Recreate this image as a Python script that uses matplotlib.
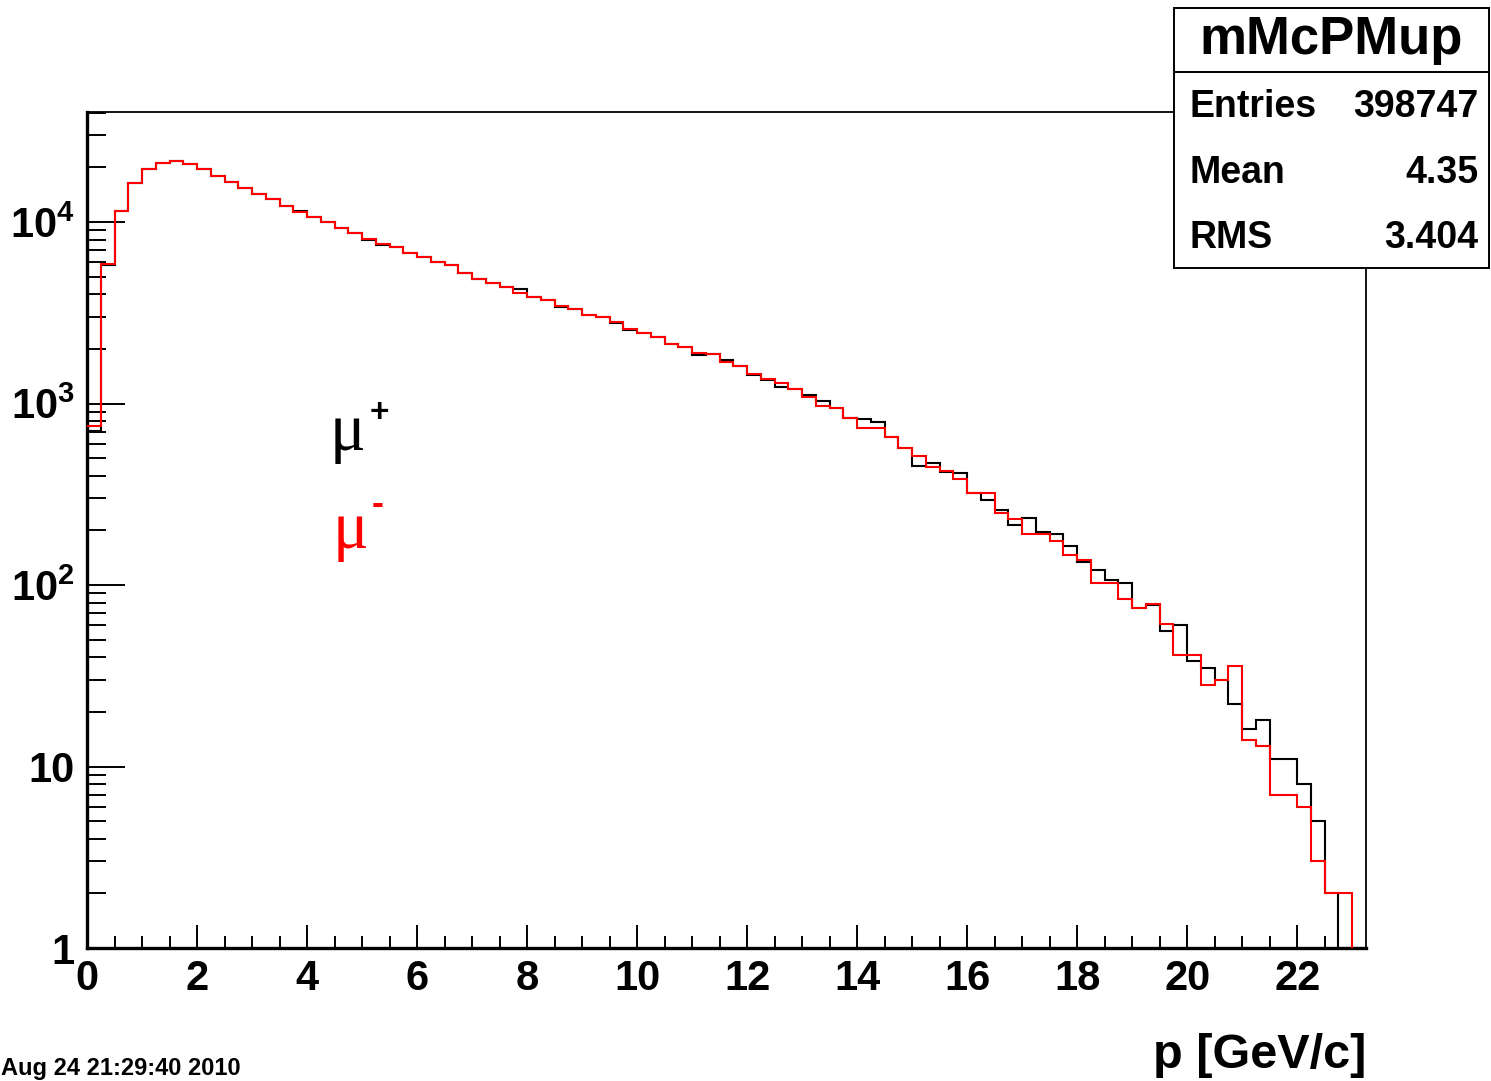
import numpy as np
import matplotlib
matplotlib.use("Agg")
import matplotlib.pyplot as plt
from matplotlib.ticker import MultipleLocator, LogLocator, NullFormatter
from matplotlib.patches import Rectangle
from matplotlib.lines import Line2D

plt.rcParams['font.family'] = ['Liberation Sans', 'DejaVu Sans']
plt.rcParams['font.weight'] = 'bold'
plt.rcParams['mathtext.fontset'] = 'custom'
plt.rcParams['mathtext.rm'] = 'Liberation Sans:bold'
plt.rcParams['mathtext.bf'] = 'Liberation Sans:bold'

# === Data, 93 bins of 0.25 GeV/c ===
p_min, p_max, n_bins = 0.0, 23.25, 93

mu_minus = [750, 5870, 11540, 16480, 19510, 21220, 21760, 20880, 19510, 17990,
            16680, 15450, 14270, 13340, 12300, 11400, 10620, 10040, 9230, 8660,
            8030, 7560, 7260, 6780, 6440, 6040, 5770, 5210, 4870, 4630,
            4400, 4080, 3850, 3720, 3440, 3300, 3090, 3010, 2810, 2580,
            2460, 2330, 2130, 2060, 1910, 1870, 1700, 1600, 1450, 1360,
            1300, 1200, 1090, 968, 941, 829, 730, 730, 656, 566,
            514, 449, 426, 382, 322, 322, 249, 232, 191, 192,
            175, 146, 137, 103, 103, 84, 75, 79, 61, 41,
            41, 28, 30, 36, 14, 13, 7, 7, 6, 3,
            2, 2, 0]

mu_plus = [710, 5800, 11540, 16480, 19510, 21220, 21600, 20880, 19510, 17990,
           16680, 15450, 14270, 13340, 12300, 11500, 10620, 10040, 9230, 8660,
           7980, 7510, 7260, 6740, 6440, 6020, 5770, 5250, 4840, 4600,
           4400, 4290, 3850, 3720, 3420, 3300, 3070, 2990, 2790, 2540,
           2460, 2330, 2120, 2040, 1860, 1870, 1740, 1600, 1430, 1350,
           1230, 1200, 1120, 1036, 941, 829, 824, 791, 656, 566,
           454, 468, 419, 416, 322, 294, 259, 214, 233, 197,
           191, 164, 134, 121, 106, 103, 75, 78, 56, 60,
           38, 35, 30, 22, 16, 18, 11, 11, 8, 5,
           2, 0, 0]

hist_name = "mMcPMup"
stats_labels = ["Entries", "Mean", "RMS"]
stats_values = ["398747", "4.35", "3.404"]
y_tick_vals = [1, 10, 100, 1000, 10000]
y_tick_text = ["1", "10", r"$\mathbf{10^{2}}$", r"$\mathbf{10^{3}}$", r"$\mathbf{10^{4}}$"]
x_label = "p [GeV/c]"
date_text = "Aug 24 21:29:40 2010"

edges = np.linspace(p_min, p_max, n_bins + 1)

# === Figure ===
W, H = 1491, 1081
fig = plt.figure(figsize=(W / 100, H / 100), dpi=100)
ax = fig.add_axes([87 / W, 1 - 948 / H, (1366 - 87) / W, (948 - 112) / H])

ax.set_yscale('log')
ax.stairs(mu_plus, edges, baseline=None, color='black', lw=1.5, zorder=2)
ax.stairs(mu_minus, edges, baseline=None, color='red', lw=1.5, zorder=3)

ax.set_xlim(p_min, p_max)
ax.set_ylim(1, 4.04e4)

# axis styling (ROOT-like)
for s in ['left', 'bottom']:
    ax.spines[s].set_linewidth(2.4)
for s in ['top', 'right']:
    ax.spines[s].set_linewidth(1.3)

ax.xaxis.set_major_locator(MultipleLocator(2))
ax.xaxis.set_minor_locator(MultipleLocator(0.5))
ax.set_yticks(y_tick_vals, labels=y_tick_text)
ax.yaxis.set_minor_locator(LogLocator(base=10, subs=np.arange(2, 10)))
ax.yaxis.set_minor_formatter(NullFormatter())

ax.tick_params(axis='x', which='major', direction='in', length=16.5, width=1.4,
               labelsize=30, pad=8, top=False)
ax.tick_params(axis='x', which='minor', direction='in', length=8.5, width=1.4, top=False)
ax.tick_params(axis='y', which='major', direction='in', length=27, width=1.4,
               labelsize=30, pad=9, right=False)
ax.tick_params(axis='y', which='minor', direction='in', length=14, width=1.4, right=False)
for lab in ax.get_xticklabels() + ax.get_yticklabels():
    lab.set_fontweight('bold')

# mu+ / mu- labels
ax.text(0.190, 0.596, "μ", transform=ax.transAxes, family='Liberation Serif',
        fontsize=48, fontweight='normal', color='black', ha='left', va='baseline')
ax.text(0.2283, 0.639, "+", transform=ax.transAxes, fontsize=24,
        fontweight='bold', color='black', ha='center', va='center')
ax.text(0.1923, 0.4785, "μ", transform=ax.transAxes, family='Liberation Serif',
        fontsize=48, fontweight='normal', color='red', ha='left', va='baseline')
ax.text(0.2275, 0.531, "-", transform=ax.transAxes, fontsize=26,
        fontweight='bold', color='red', ha='center', va='center')

# x axis title and date
fig.text(1366 / W, 1 - 1068 / H, x_label, fontsize=35, fontweight='bold',
         ha='right', va='baseline')
fig.text(0.001, 1 - 1075 / H, date_text, fontsize=17, fontweight='bold',
         ha='left', va='baseline')

# === Stats box ===
bx0, bx1 = 1174 / W, 1489 / W
by0, by1 = 1 - 268 / H, 1 - 8 / H
sep = 1 - 72 / H
fig.add_artist(Rectangle((bx0, by0), bx1 - bx0, by1 - by0, transform=fig.transFigure,
                         facecolor='white', edgecolor='black', lw=1.4, zorder=5))
fig.add_artist(Line2D([bx0, bx1], [sep, sep], transform=fig.transFigure,
                      color='black', lw=1.4, zorder=6))
fig.text((bx0 + bx1) / 2, 1 - 40 / H, hist_name, fontsize=38, fontweight='bold',
         ha='center', va='center', zorder=7)
row_y = [107, 173, 238]
for lab, val, ry in zip(stats_labels, stats_values, row_y):
    fig.text(1190 / W, 1 - ry / H, lab, fontsize=27, fontweight='bold',
             ha='left', va='center', zorder=7)
    fig.text(1478 / W, 1 - ry / H, val, fontsize=27, fontweight='bold',
             ha='right', va='center', zorder=7)

fig.savefig("out.png", dpi=100)
